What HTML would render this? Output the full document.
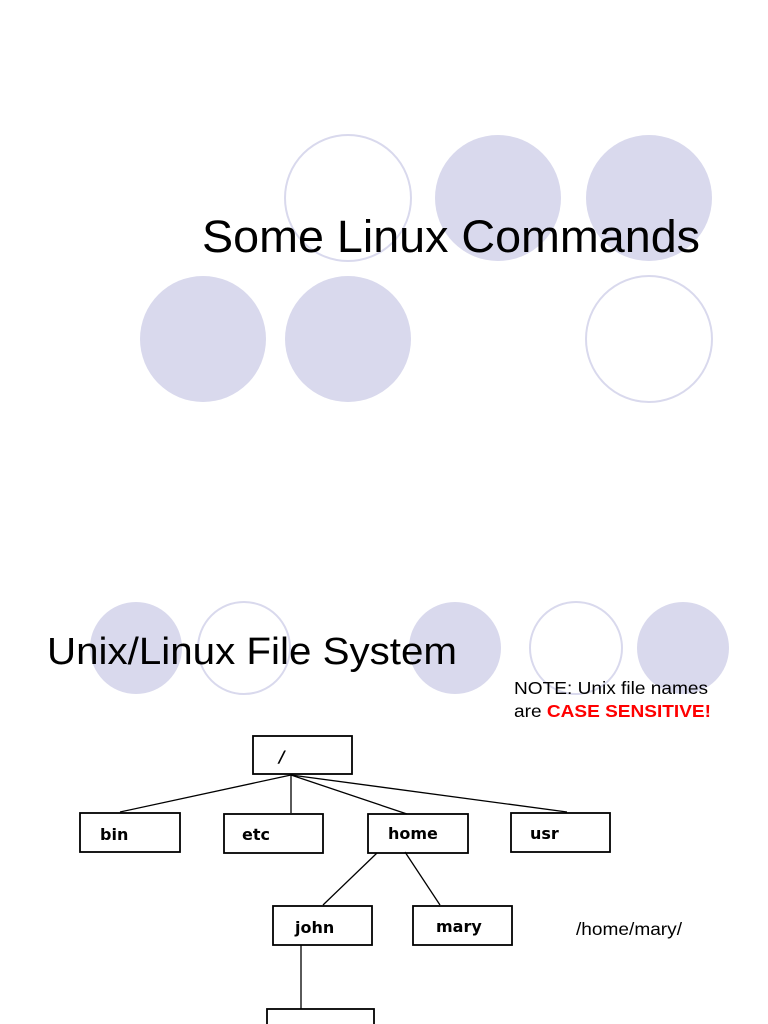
<!DOCTYPE html>
<html><head><style>html,body{margin:0;padding:0;background:#fff}svg{display:block}</style></head><body>
<svg width="768" height="1024" xmlns="http://www.w3.org/2000/svg" font-family="Liberation Sans, sans-serif">
<g fill="#d9d9ed">
<circle cx="498" cy="198" r="63"/><circle cx="649" cy="198" r="63"/>
<circle cx="203" cy="339" r="63"/><circle cx="348" cy="339" r="63"/>
<circle cx="136" cy="648" r="46"/><circle cx="455" cy="648" r="46"/><circle cx="683" cy="648" r="46"/>
</g>
<g fill="none" stroke="#d9d9ed" stroke-width="2">
<circle cx="348" cy="198" r="63"/><circle cx="649" cy="339" r="63"/>
<circle cx="244" cy="648" r="46"/><circle cx="576" cy="648" r="46"/>
</g>
<text x="202" y="252" font-size="45" textLength="498" lengthAdjust="spacingAndGlyphs">Some Linux Commands</text>
<text x="47" y="664" font-size="38" textLength="410" lengthAdjust="spacingAndGlyphs">Unix/Linux File System</text>
<text x="514" y="694" font-size="17.5" textLength="194" lengthAdjust="spacingAndGlyphs">NOTE: Unix file names</text>
<text x="514" y="717" font-size="17.5" textLength="197" lengthAdjust="spacingAndGlyphs">are <tspan fill="#ff0000" font-weight="bold">CASE SENSITIVE!</tspan></text>
<text x="576" y="935" font-size="17.5" textLength="106" lengthAdjust="spacingAndGlyphs">/home/mary/</text>
<g stroke="#000" fill="none" stroke-width="1.3">
<line x1="291" y1="775" x2="120" y2="812"/><line x1="291" y1="775" x2="291" y2="813"/>
<line x1="291" y1="775" x2="407" y2="814"/><line x1="291" y1="775" x2="567" y2="812"/>
<line x1="377" y1="853" x2="323" y2="905"/><line x1="405" y1="852" x2="440" y2="905"/>
<line x1="301" y1="945" x2="301" y2="1009"/>
<g stroke-width="1.8">
<rect x="253" y="736" width="99" height="38"/>
<rect x="80" y="813" width="100" height="39"/>
<rect x="224" y="814" width="99" height="39"/>
<rect x="368" y="814" width="100" height="39"/>
<rect x="511" y="813" width="99" height="39"/>
<rect x="273" y="906" width="99" height="39"/>
<rect x="413" y="906" width="99" height="39"/>
<rect x="267" y="1009" width="107" height="30"/>
</g>
</g>
<g font-family="DejaVu Sans, sans-serif" font-weight="bold" font-size="16">
<text x="279" y="762" font-style="italic">/</text>
<text x="100" y="840">bin</text>
<text x="242" y="840">etc</text>
<text x="388" y="839">home</text>
<text x="530" y="839">usr</text>
<text x="295" y="933">john</text>
<text x="436" y="932">mary</text>
</g>
</svg>
</body></html>
